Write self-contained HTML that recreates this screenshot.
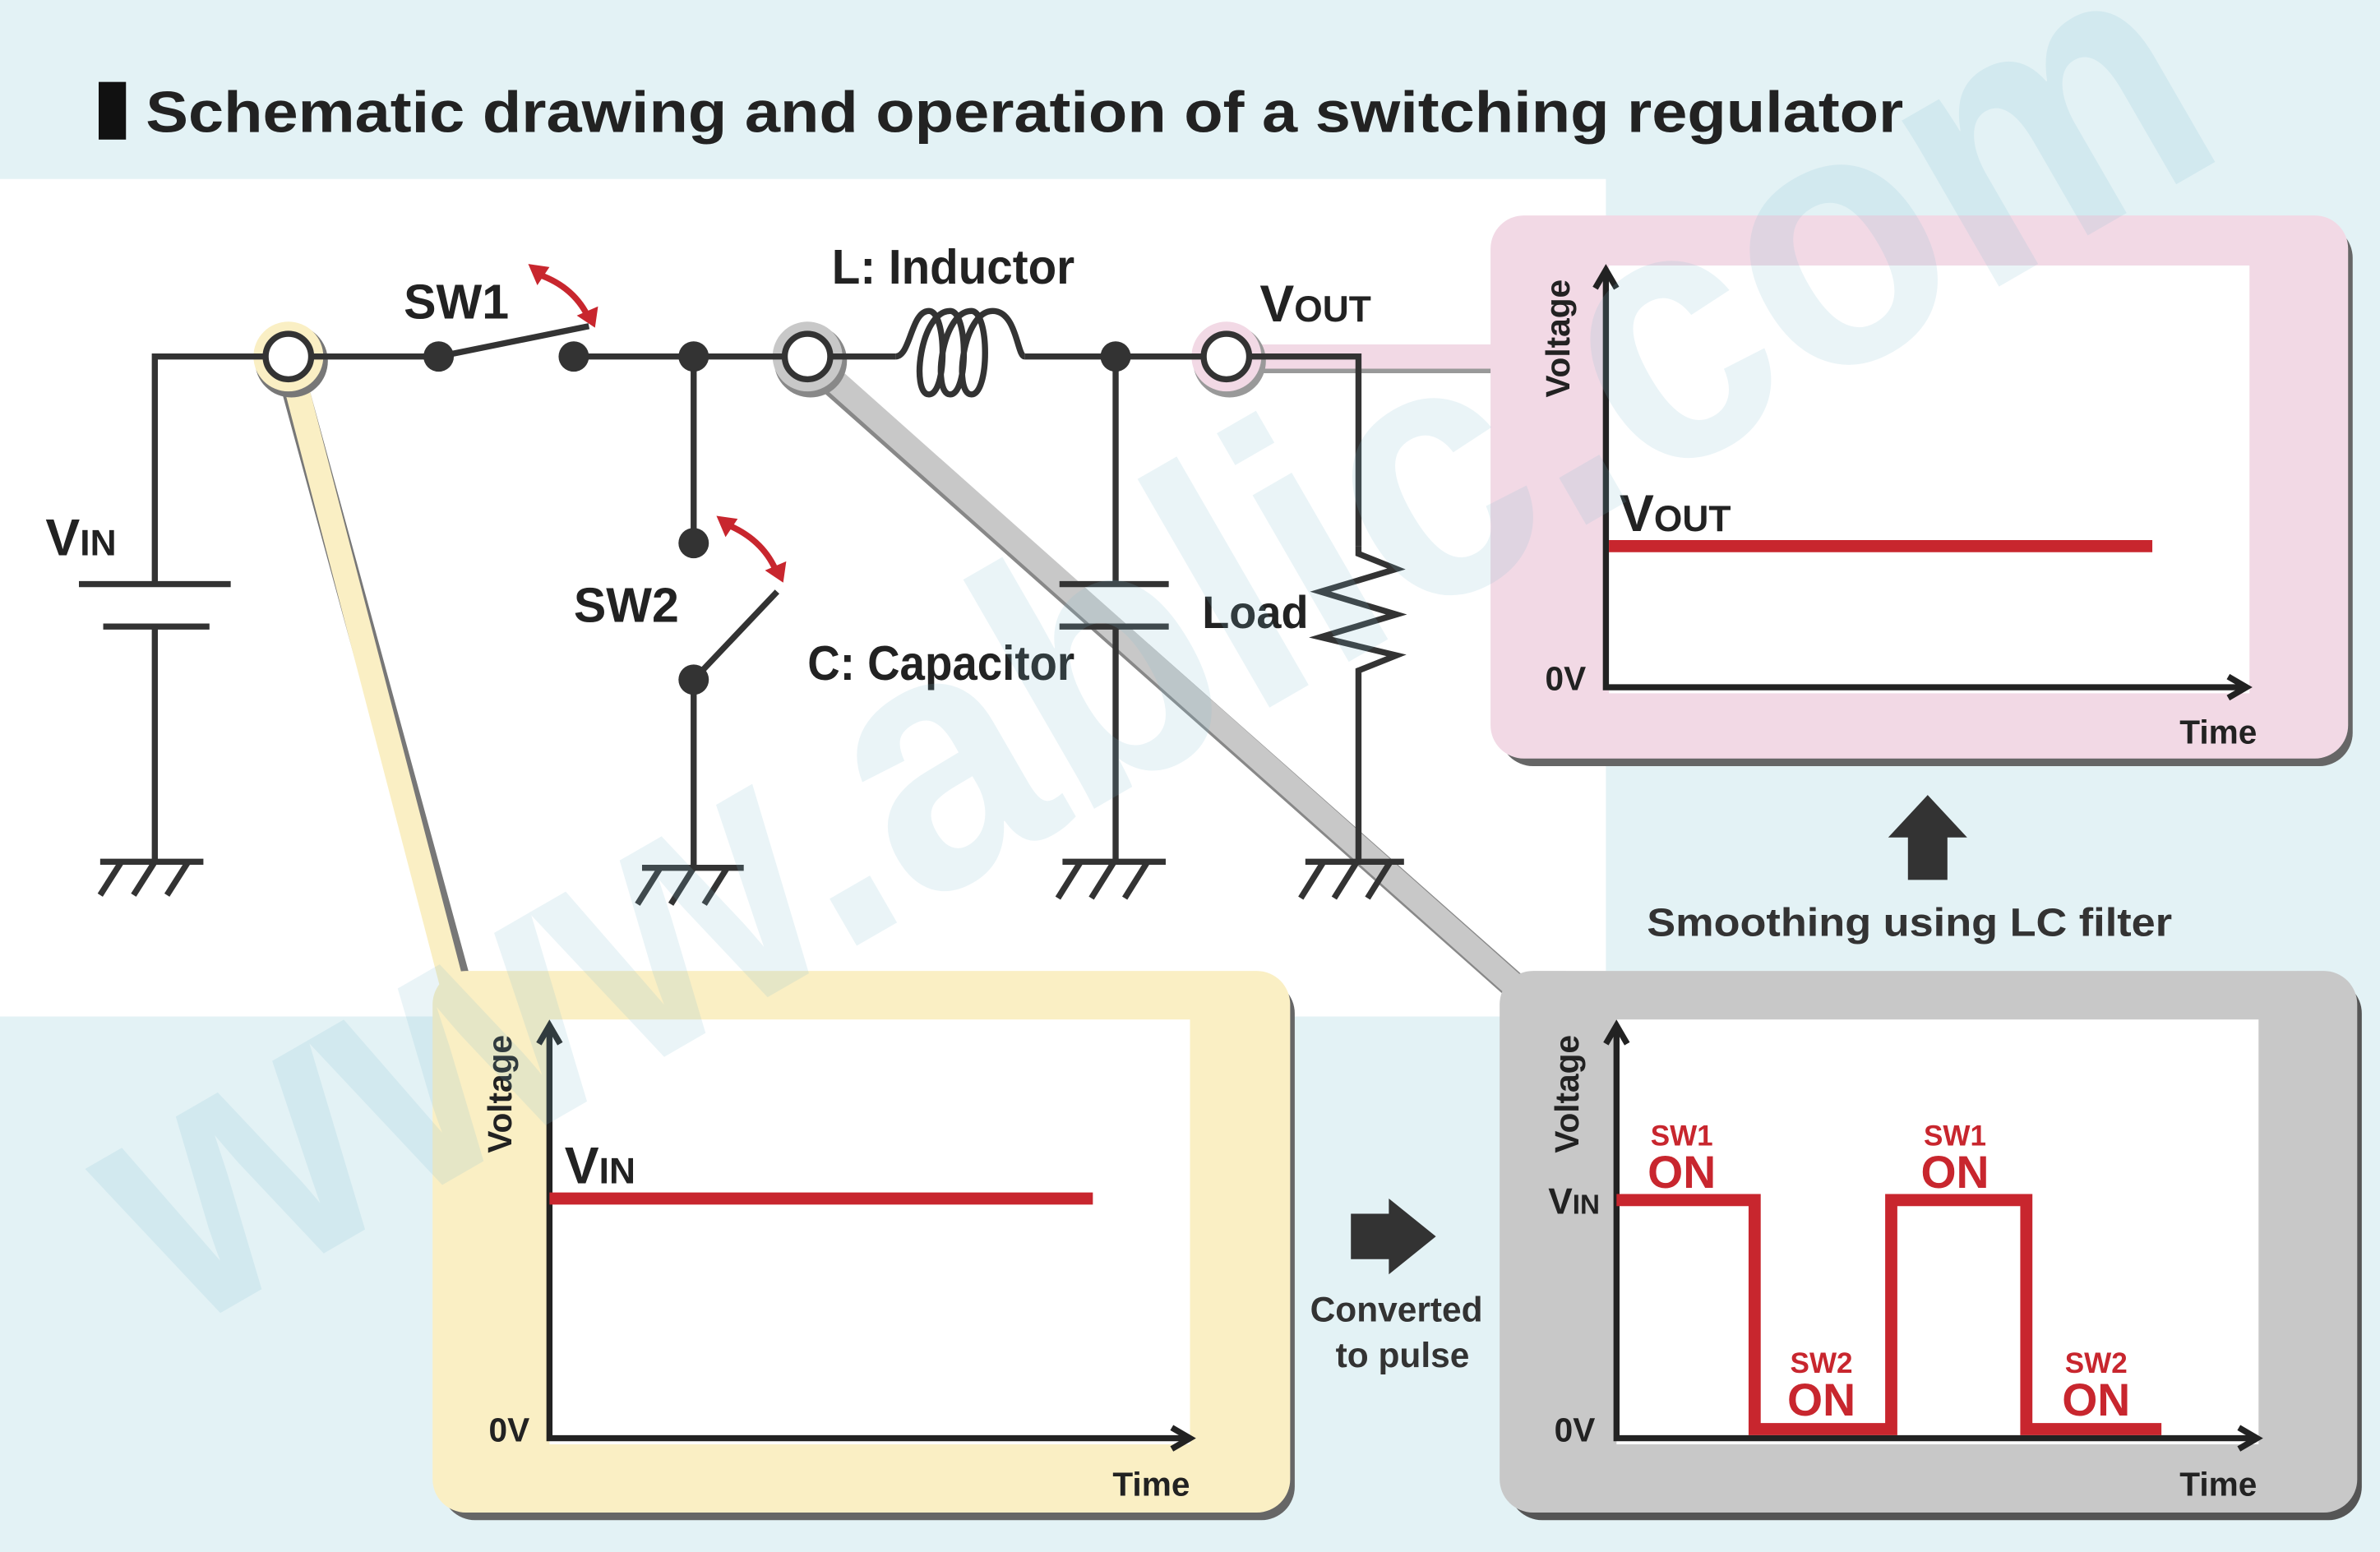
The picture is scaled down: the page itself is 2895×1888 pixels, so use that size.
<!DOCTYPE html>
<html><head><meta charset="utf-8"><style>
html,body{margin:0;padding:0;background:#e3f2f5;}
svg{display:block;}
text{font-family:"Liberation Sans","DejaVu Sans",sans-serif;font-weight:bold;}
</style></head><body>
<svg width="2895" height="1888" viewBox="0 0 1568 1023" preserveAspectRatio="none" xmlns="http://www.w3.org/2000/svg">
<rect width="1568" height="1023" fill="#e3f2f5"/>
<rect x="0" y="118" width="1058" height="552" fill="#ffffff"/>
<rect x="65" y="54" width="18" height="38" fill="#111"/>
<text x="96" y="87" font-size="38" fill="#222" textLength="1158" lengthAdjust="spacingAndGlyphs">Schematic drawing and operation of a switching regulator</text>

<line x1="190" y1="240" x2="302" y2="650" stroke="#777" stroke-width="18" stroke-linecap="round"/>
<line x1="190" y1="235" x2="298" y2="650" stroke="#faefc4" stroke-width="16" stroke-linecap="round"/>
<circle cx="192" cy="238" r="24" fill="#777"/>
<circle cx="190" cy="235" r="23" fill="#faefc4"/>
<line x1="535" y1="240" x2="1000" y2="652" stroke="#888" stroke-width="18" stroke-linecap="round"/>
<line x1="532" y1="235" x2="998" y2="650" stroke="#c8c8c8" stroke-width="16" stroke-linecap="round"/>
<circle cx="534" cy="238" r="24" fill="#888"/>
<circle cx="532" cy="235" r="23" fill="#c8c8c8"/>
<line x1="808" y1="238" x2="990" y2="238" stroke="#999" stroke-width="16"/>
<line x1="808" y1="235" x2="990" y2="235" stroke="#f2d9e5" stroke-width="16"/>
<circle cx="810" cy="238" r="24" fill="#999"/>
<circle cx="808" cy="235" r="23" fill="#f2d9e5"/>

<g stroke="#333" stroke-width="4" fill="none">
<polyline points="102,385 102,235 175,235"/>
<line x1="52" y1="385" x2="152" y2="385"/>
<line x1="68" y1="413" x2="138" y2="413"/>
<line x1="102" y1="413" x2="102" y2="568"/>
<line x1="205" y1="235" x2="289" y2="235"/>
<line x1="289" y1="235" x2="388" y2="215"/>
<line x1="378" y1="235" x2="517" y2="235"/>
<line x1="547" y1="235" x2="590" y2="235"/>
<path d="M590,235 C600,235 600,205 612,205 C624,205 624,260 612,260 C600,260 606,205 626,205 C638,205 638,260 626,260 C614,260 620,205 640,205 C652,205 652,260 640,260 C628,260 634,205 654,205 C670,205 670,235 675,235"/>
<line x1="675" y1="235" x2="793" y2="235"/>
<polyline points="823,235 895,235 895,360"/>
<polyline points="895,360 895,365 920,375 870,390 920,405 870,420 920,432 895,442 895,568"/>
<line x1="457" y1="235" x2="457" y2="358"/>
<line x1="457" y1="448" x2="512" y2="390"/>
<line x1="457" y1="448" x2="457" y2="570"/>
<line x1="735" y1="235" x2="735" y2="385"/>
<line x1="698" y1="385" x2="770" y2="385"/>
<line x1="698" y1="413" x2="770" y2="413"/>
<line x1="735" y1="413" x2="735" y2="570"/>
<g>
<line x1="66" y1="568" x2="134" y2="568"/><line x1="80" y1="568" x2="66" y2="590"/><line x1="102" y1="568" x2="88" y2="590"/><line x1="124" y1="568" x2="110" y2="590"/>
<line x1="423" y1="572" x2="490" y2="572"/><line x1="435" y1="572" x2="420" y2="596"/><line x1="457" y1="572" x2="442" y2="596"/><line x1="479" y1="572" x2="464" y2="596"/>
<line x1="700" y1="568" x2="768" y2="568"/><line x1="712" y1="568" x2="697" y2="592"/><line x1="734" y1="568" x2="719" y2="592"/><line x1="756" y1="568" x2="741" y2="592"/>
<line x1="860" y1="568" x2="925" y2="568"/><line x1="872" y1="568" x2="857" y2="592"/><line x1="894" y1="568" x2="879" y2="592"/><line x1="916" y1="568" x2="901" y2="592"/>
</g>
</g>
<g fill="#333">
<circle cx="289" cy="235" r="10"/><circle cx="378" cy="235" r="10"/><circle cx="457" cy="235" r="10"/>
<circle cx="735" cy="235" r="10"/><circle cx="457" cy="358" r="10"/><circle cx="457" cy="448" r="10"/>
</g>
<g fill="#fff" stroke="#333" stroke-width="4">
<circle cx="190" cy="235" r="15"/><circle cx="532" cy="235" r="15"/><circle cx="808" cy="235" r="15"/>
</g>
<g stroke="#c8262e" stroke-width="4" fill="none">
<path d="M352,180 Q378,188 388,210"/>
<path d="M477,345 Q503,355 512,378"/>
</g>
<g fill="#c8262e">
<polygon points="348,174 362,176 354,188"/><polygon points="392,216 380,208 394,202"/>
<polygon points="472,340 486,342 478,354"/><polygon points="516,384 504,376 518,370"/>
</g>
<g fill="#222">
<text x="30" y="366" font-size="34">V<tspan font-size="24">IN</tspan></text>
<text x="266" y="210" font-size="32">SW1</text>
<text x="378" y="410" font-size="32">SW2</text>
<text x="548" y="187" font-size="32" textLength="160" lengthAdjust="spacingAndGlyphs">L: Inductor</text>
<text x="532" y="448" font-size="32" textLength="176" lengthAdjust="spacingAndGlyphs">C: Capacitor</text>
<text x="830" y="212" font-size="34">V<tspan font-size="24">OUT</tspan></text>
<text x="792" y="414" font-size="30" textLength="70" lengthAdjust="spacingAndGlyphs">Load</text>
</g>

<rect x="988" y="148" width="562" height="357" rx="22" fill="#666"/>
<rect x="982" y="142" width="565" height="358" rx="22" fill="#f2d9e5"/>
<rect x="1060" y="175" width="422" height="282" fill="#fff"/>
<g stroke="#222" stroke-width="4" fill="none">
<polyline points="1058,182 1058,453 1478,453"/>
<polyline points="1051,190 1058,178 1065,190"/>
<polyline points="1468,446 1480,453 1468,460"/>
</g>
<line x1="1060" y1="360" x2="1418" y2="360" stroke="#c8262e" stroke-width="8"/>
<text x="1067" y="350" font-size="34" fill="#222">V<tspan font-size="24">OUT</tspan></text>
<text x="1018" y="455" font-size="22" fill="#222">0V</text>
<text x="1436" y="490" font-size="22" fill="#222">Time</text>
<text transform="translate(1034,262) rotate(-90)" font-size="22" fill="#222">Voltage</text>

<polygon points="1270,524 1296,552 1283,552 1283,580 1257,580 1257,552 1244,552" fill="#333"/>
<text x="1258" y="617" font-size="26" fill="#333" text-anchor="middle" textLength="346" lengthAdjust="spacingAndGlyphs">Smoothing using LC filter</text>

<rect x="291" y="646" width="562" height="356" rx="22" fill="#666"/>
<rect x="285" y="640" width="565" height="357" rx="22" fill="#faefc4"/>
<rect x="362" y="672" width="422" height="280" fill="#fff"/>
<g stroke="#222" stroke-width="4" fill="none">
<polyline points="362,680 362,948 782,948"/>
<polyline points="355,688 362,676 369,688"/>
<polyline points="772,941 784,948 772,955"/>
</g>
<line x1="362" y1="790" x2="720" y2="790" stroke="#c8262e" stroke-width="8"/>
<text x="372" y="780" font-size="34" fill="#222">V<tspan font-size="24">IN</tspan></text>
<text x="322" y="950" font-size="22" fill="#222">0V</text>
<text x="733" y="986" font-size="22" fill="#222">Time</text>
<text transform="translate(337,760) rotate(-90)" font-size="22" fill="#222">Voltage</text>

<polygon points="890,800 915,800 915,790 946,815 915,840 915,830 890,830" fill="#333"/>
<text x="920" y="871" font-size="23" fill="#333" text-anchor="middle">Converted</text>
<text x="924" y="901" font-size="23" fill="#333" text-anchor="middle">to pulse</text>

<rect x="994" y="646" width="562" height="356" rx="22" fill="#555"/>
<rect x="988" y="640" width="565" height="357" rx="22" fill="#c8c8c8"/>
<rect x="1065" y="672" width="423" height="280" fill="#fff"/>
<g stroke="#222" stroke-width="4" fill="none">
<polyline points="1065,680 1065,948 1485,948"/>
<polyline points="1058,688 1065,676 1072,688"/>
<polyline points="1475,941 1487,948 1475,955"/>
</g>
<polyline points="1065,791 1156,791 1156,942 1246,942 1246,791 1335,791 1335,942 1424,942" stroke="#c8262e" stroke-width="8" fill="none"/>
<text x="1020" y="800" font-size="24" fill="#222">V<tspan font-size="18">IN</tspan></text>
<text x="1024" y="950" font-size="22" fill="#222">0V</text>
<text x="1436" y="986" font-size="22" fill="#222">Time</text>
<text transform="translate(1040,760) rotate(-90)" font-size="22" fill="#222">Voltage</text>
<g fill="#c8262e" text-anchor="middle">
<text x="1108" y="755" font-size="19">SW1</text><text x="1108" y="783" font-size="30">ON</text>
<text x="1288" y="755" font-size="19">SW1</text><text x="1288" y="783" font-size="30">ON</text>
<text x="1200" y="905" font-size="19">SW2</text><text x="1200" y="933" font-size="30">ON</text>
<text x="1381" y="905" font-size="19">SW2</text><text x="1381" y="933" font-size="30">ON</text>
</g>

<text x="0" y="0" transform="translate(120,880) rotate(-30)" font-size="240" fill="#7fbdd2" opacity="0.16" textLength="1560" lengthAdjust="spacingAndGlyphs">www.ablic.com</text>
</svg>
</body></html>
